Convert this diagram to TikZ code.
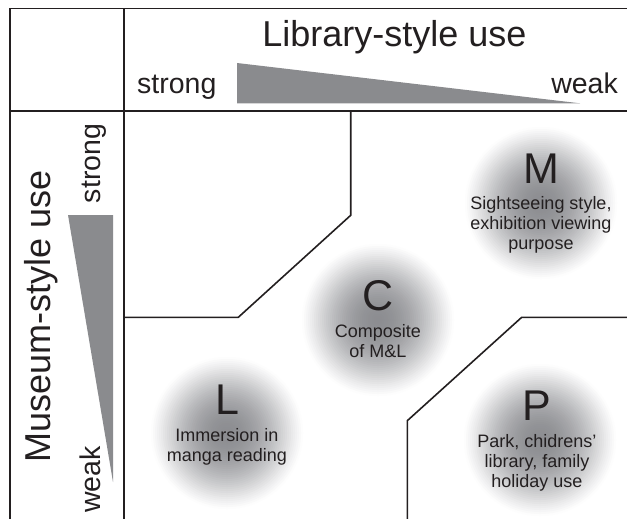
\documentclass[tikz,border=0pt]{standalone}
\usepackage{fontspec}
\setmainfont{Liberation Sans}
\usetikzlibrary{positioning}

\definecolor{ink}{HTML}{231F20}
\definecolor{wedgegray}{HTML}{8A8B8E}
\definecolor{spotgray}{HTML}{8C8D91}

\begin{document}
\begin{tikzpicture}[
    x=1pt,
    y=-1pt,
    zone/.style={
        ink,
        line width=1.6pt,
        line join=miter,
    },
    axistitle/.style={
        font=\fontsize{36}{36}\selectfont,
        text=ink,
        inner sep=0pt,
    },
    degree/.style={
        font=\fontsize{28.5}{28.5}\selectfont,
        text=ink,
        inner sep=0pt,
    },
    letter/.style={
        font=\fontsize{43}{43}\selectfont,
        text=ink,
        inner sep=0pt,
        anchor=base,
    },
    blurb/.style={
        font=\fontsize{18}{20}\selectfont,
        text=ink,
        align=center,
        inner sep=0pt,
        anchor=north,
    }
]
    \useasboundingbox (0,0) rectangle (627,519);

    % Spots (soft gray discs)
    \coordinate (mspot) at (541,203);
    \coordinate (cspot) at (378,320);
    \coordinate (lspot) at (227,433);
    \coordinate (pspot) at (540,440);
    \foreach \s in {mspot,cspot,lspot,pspot} {
        \foreach \r in {78,76,...,2} {
            \pgfmathsetmacro\p{100*(1-(\r/78)^2)^1.3}
            \fill[spotgray!\p!white] (\s) circle (\r);
        }
    }

    % Frame
    \draw[zone] (627,8.5) -| (10,519);
    \draw[zone] (124,8.5) -- (124,519);
    \draw[zone] (10,111) -- (627,111);

    % Zone borders
    \draw[zone] (350.7,111) -- (350.7,215.3) -- (238.3,317.3) -- (124,317.3);
    \draw[zone] (627,317.3) -- (521.7,317.3) -- (407.3,420.7) -- (407.3,519);

    % Wedges
    \fill[wedgegray] (237,63) -- (580,103.3) -- (237,103.3) -- cycle;
    \fill[wedgegray] (68,215) -- (113,215) -- (113,482) -- cycle;

    % Axis titles
    \node[axistitle, anchor=base] (libtitle) at (394.5,47) {Library-style use};
    \node[degree, anchor=base west] (libstrong) at (137,94) {strong};
    \node[degree, anchor=base east] (libweak) at (618,94) {weak};
    \node[axistitle, rotate=90, anchor=base] (mustitle) at (50,316) {Museum-style use};
    \node[degree, rotate=90, anchor=base] (musstrong) at (100,163.5) {strong};
    \node[degree, rotate=90, anchor=base] (musweak) at (100,479.5) {weak};

    % Letters
    \node[letter] (mletter) at (541,183) {M};
    \node[letter] (cletter) at (378,310) {C};
    \node[letter] (lletter) at (227,414) {L};
    \node[letter] (pletter) at (537,420) {P};

    % Descriptions
    \node[blurb] (mtext) at (541,196) {Sightseeing style,\\exhibition viewing\\purpose};
    \node[blurb] (ctext) at (378,324) {Composite\\of M\&L};
    \node[blurb] (ltext) at (227,428) {Immersion in\\manga reading};
    \node[blurb] (ptext) at (537,434) {Park, chidrens’\\library, family\\holiday use};
\end{tikzpicture}
\end{document}
